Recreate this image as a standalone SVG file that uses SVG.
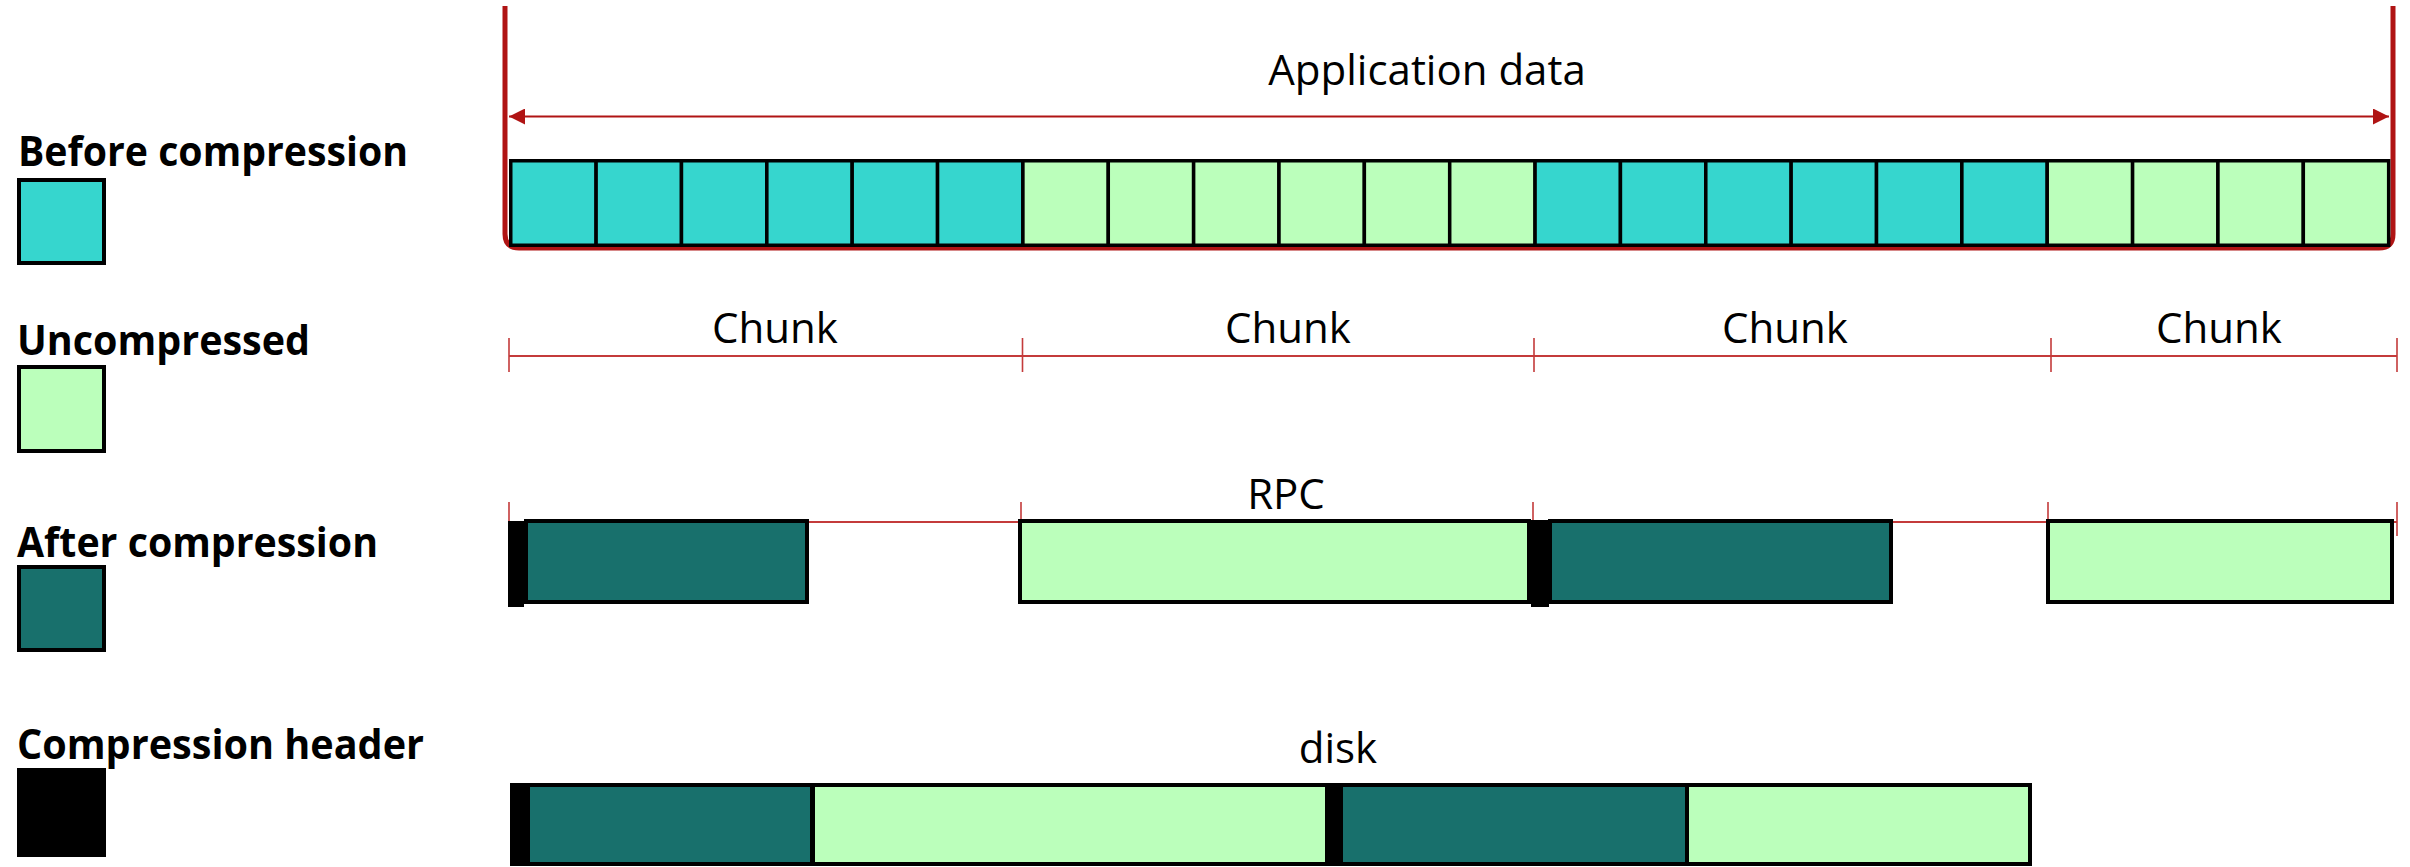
<svg xmlns="http://www.w3.org/2000/svg" width="2410" height="867" viewBox="0 0 2410 867">
<style>
.lbl{font-family:"Open Sans","Noto Sans","Liberation Sans",sans-serif;font-size:42px;fill:#000;}
.leg{font-family:"Open Sans","Noto Sans","Liberation Sans",sans-serif;font-size:42px;font-weight:700;fill:#000;}
.cy{fill:#36D6CE;stroke:#000;stroke-width:3.5;}
.gr{fill:#BBFFBB;stroke:#000;stroke-width:4;}
.tl{fill:#18706C;stroke:#000;stroke-width:4;}
.hd{fill:#000;}
.thin{stroke:#C43B3B;stroke-width:2;fill:none;}
.tick{stroke:#C43B3B;stroke-width:1.6;fill:none;}
</style>
<defs>
<marker id="ah" viewBox="0 0 16 16" refX="16" refY="8" markerWidth="16" markerHeight="16" markerUnits="userSpaceOnUse" orient="auto-start-reverse">
<path d="M0,0 L16,8 L0,16 z" fill="#B01414"/>
</marker>
</defs>
<rect width="2410" height="867" fill="#fff"/>

<g id="legend-before">
<text class="leg" x="18" y="166" textLength="390" lengthAdjust="spacingAndGlyphs">Before compression</text>
<rect class="gr" x="19" y="180" width="85" height="83" style="fill:#36D6CE"/>
</g>
<g id="legend-uncompressed">
<text class="leg" x="17" y="355" textLength="293" lengthAdjust="spacingAndGlyphs">Uncompressed</text>
<rect class="gr" x="19" y="367" width="85" height="84"/>
</g>
<g id="legend-after">
<text class="leg" x="17" y="557" textLength="361" lengthAdjust="spacingAndGlyphs">After compression</text>
<rect class="tl" x="19" y="567" width="85" height="83"/>
</g>
<g id="legend-header">
<text class="leg" x="17" y="759" textLength="407" lengthAdjust="spacingAndGlyphs">Compression header</text>
<rect class="hd" x="17" y="768" width="89" height="89"/>
</g>

<g id="connectors">
<path d="M505,6 V234 Q505,248 519,248 H2379 Q2393,248 2393,234 V6" fill="none" stroke="#B01414" stroke-width="5"/>
<line x1="509" y1="116.5" x2="2389" y2="116.5" stroke="#B01414" stroke-width="2" marker-start="url(#ah)" marker-end="url(#ah)"/>
<line class="thin" x1="509" y1="356" x2="2397" y2="356"/>
<path class="tick" d="M509,338 V372 M1022.5,338 V372 M1534,338 V372 M2051,338 V372 M2397,338 V372"/>
<line class="thin" x1="509" y1="522" x2="2397" y2="522"/>
<path class="tick" d="M509,502 V521 M1021,502 V521 M1533,502 V521 M2048,502 V521 M2397,502 V536"/>
</g>

<g id="application-data">
<text class="lbl" x="1427" y="85" text-anchor="middle">Application data</text>
</g>

<g id="before-bar">
<rect x="510.75" y="160.75" width="85.36" height="84.5" class="cy"/>
<rect x="596.11" y="160.75" width="85.36" height="84.5" class="cy"/>
<rect x="681.47" y="160.75" width="85.36" height="84.5" class="cy"/>
<rect x="766.83" y="160.75" width="85.36" height="84.5" class="cy"/>
<rect x="852.19" y="160.75" width="85.36" height="84.5" class="cy"/>
<rect x="937.55" y="160.75" width="85.36" height="84.5" class="cy"/>
<rect x="1022.91" y="160.75" width="85.36" height="84.5" class="cy" style="fill:#BBFFBB"/>
<rect x="1108.27" y="160.75" width="85.36" height="84.5" class="cy" style="fill:#BBFFBB"/>
<rect x="1193.63" y="160.75" width="85.36" height="84.5" class="cy" style="fill:#BBFFBB"/>
<rect x="1278.99" y="160.75" width="85.36" height="84.5" class="cy" style="fill:#BBFFBB"/>
<rect x="1364.35" y="160.75" width="85.36" height="84.5" class="cy" style="fill:#BBFFBB"/>
<rect x="1449.71" y="160.75" width="85.36" height="84.5" class="cy" style="fill:#BBFFBB"/>
<rect x="1535.07" y="160.75" width="85.36" height="84.5" class="cy"/>
<rect x="1620.43" y="160.75" width="85.36" height="84.5" class="cy"/>
<rect x="1705.79" y="160.75" width="85.36" height="84.5" class="cy"/>
<rect x="1791.15" y="160.75" width="85.36" height="84.5" class="cy"/>
<rect x="1876.51" y="160.75" width="85.36" height="84.5" class="cy"/>
<rect x="1961.87" y="160.75" width="85.36" height="84.5" class="cy"/>
<rect x="2047.23" y="160.75" width="85.36" height="84.5" class="cy" style="fill:#BBFFBB"/>
<rect x="2132.59" y="160.75" width="85.36" height="84.5" class="cy" style="fill:#BBFFBB"/>
<rect x="2217.95" y="160.75" width="85.36" height="84.5" class="cy" style="fill:#BBFFBB"/>
<rect x="2303.31" y="160.75" width="85.36" height="84.5" class="cy" style="fill:#BBFFBB"/>
</g>

<g id="chunks">
<text class="lbl" x="775" y="343" text-anchor="middle">Chunk</text>
<text class="lbl" x="1288" y="343" text-anchor="middle">Chunk</text>
<text class="lbl" x="1785" y="343" text-anchor="middle">Chunk</text>
<text class="lbl" x="2219" y="343" text-anchor="middle">Chunk</text>
</g>

<g id="rpc-row">
<text class="lbl" x="1286" y="509" text-anchor="middle">RPC</text>
<rect class="tl" x="526" y="521" width="281" height="81"/>
<rect class="hd" x="508" y="521" width="16" height="86"/>
<rect class="gr" x="1020" y="521" width="509" height="81"/>
<rect class="tl" x="1550" y="521" width="341" height="81"/>
<rect class="hd" x="1531" y="520" width="18" height="87"/>
<rect class="gr" x="2048" y="521" width="344" height="81"/>
</g>

<g id="disk-row">
<text class="lbl" x="1338" y="763" text-anchor="middle">disk</text>
<rect class="hd" x="510" y="783" width="1522" height="83"/>
<rect x="530" y="787" width="280" height="75" fill="#18706C"/>
<rect x="815" y="787" width="510" height="75" fill="#BBFFBB"/>
<rect x="1343" y="787" width="342" height="75" fill="#18706C"/>
<rect x="1689" y="787" width="339" height="75" fill="#BBFFBB"/>
</g>
</svg>
